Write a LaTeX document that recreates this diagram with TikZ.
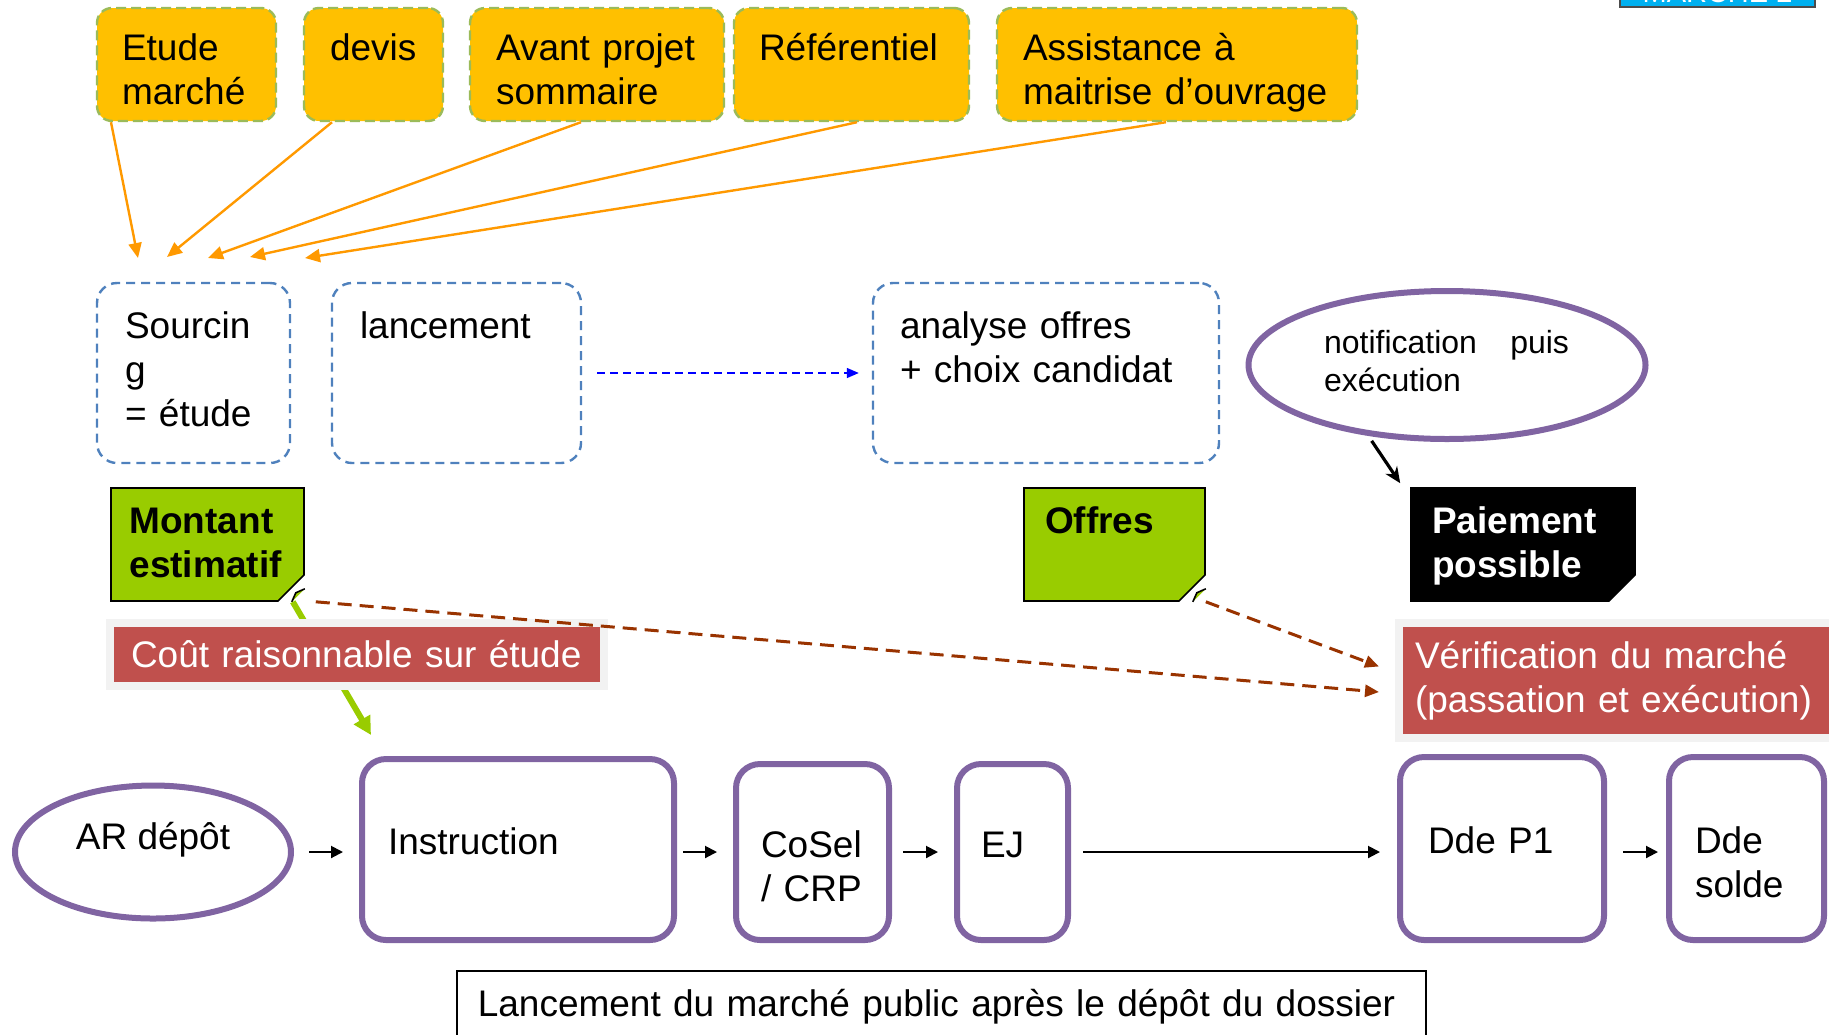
\documentclass[tikz,border=0pt]{standalone}
\usepackage{fontspec}
\setmainfont{Liberation Sans}
\usetikzlibrary{arrows.meta,shapes.geometric,shapes.misc}

\definecolor{jaune}{HTML}{FFC000}
\definecolor{vertpale}{HTML}{9BBB59}
\definecolor{orangefl}{HTML}{FF9900}
\definecolor{bleupale}{HTML}{4F81BD}
\definecolor{bleuvif}{HTML}{0000FF}
\definecolor{mauve}{HTML}{8064A2}
\definecolor{vert}{HTML}{99CC00}
\definecolor{rouge}{HTML}{C0504D}
\definecolor{grisclair}{HTML}{F2F2F2}
\definecolor{brun}{HTML}{993300}
\definecolor{ciel}{HTML}{00B0F0}

\begin{document}
\begin{tikzpicture}[x=0.5pt,y=-0.5pt,
	every node/.style={font=\fontsize{18.5}{22}\selectfont, align=left, inner sep=0pt},
	idee/.style={draw=vertpale, fill=jaune, line width=1.2pt, dash pattern=on 5pt off 2.5pt,
		rounded corners=7.5pt, minimum height=56.5pt, text height=10pt, text depth=14.5pt},
	etape/.style={draw=bleupale, line width=1.2pt, dash pattern=on 4.5pt off 3pt,
		rounded corners=10pt, minimum height=90pt, text height=5pt, text depth=40pt},
	note/.style={chamfered rectangle, chamfered rectangle corners=south east,
		chamfered rectangle xsep=6.5pt, chamfered rectangle ysep=6.5pt, draw=black, line width=0.8pt,
		minimum height=56.5pt, text height=3pt, text depth=14.5pt,
		font=\fontsize{18.5}{22}\selectfont\bfseries},
	etiquette/.style={fill=rouge, draw=grisclair, line width=4pt, text=white},
	bloc/.style={draw=mauve, line width=3pt, rounded corners=12pt, text height=18pt, text depth=13pt},
	fleche/.style={-{Triangle[length=6pt,width=6pt]}, line width=1pt},
	]
	\useasboundingbox (0,0) rectangle (1829,1034);
	\clip (0,0) rectangle (1829,1034);

	% apports
	\node[idee, minimum width=89.5pt, text width=64.5pt] (etude) at (186.5,64.5) {Etude\\marché};
	\node[idee, minimum width=69.5pt, text width=43.5pt] (devis) at (373.5,64.5) {devis};
	\node[idee, minimum width=127pt, text width=101pt] (avant) at (597,64.5) {Avant projet\\sommaire};
	\node[idee, minimum width=117.5pt, text width=92.5pt] (referentiel) at (851.5,64.5) {Référentiel};
	\node[idee, minimum width=180pt, text width=154pt] (amo) at (1177,64.5) {Assistance à\\maitrise d’ouvrage};
	\node[fill=ciel, draw=black!70, line width=0.8pt, anchor=south, minimum width=97.5pt,
		text depth=0pt, inner ysep=2.5pt, text=white, font=\fontsize{14.5}{17}\selectfont] (marche) at (1717.5,8) {MARCHÉ 2};

	\coordinate (cible1) at (138,258);
	\coordinate (cible2) at (167,257);
	\coordinate (cible3) at (208,258);
	\coordinate (cible4) at (250,257);
	\coordinate (cible5) at (305,258);
	\foreach \n/\c/\d in {etude/1/-37.75pt, devis/2/-20.75pt, avant/3/-8pt, referentiel/4/2.75pt, amo/5/-5.5pt}
		\draw[orangefl, line width=1.2pt, -{Triangle[length=7.5pt,width=6.5pt]}] ([xshift=\d]\n.south) -- (cible\c);

	% etapes
	\node[etape, minimum width=96.5pt, text width=68.5pt] (sourcing) at (193.5,373) {Sourcin\\g\\= étude};
	\node[etape, minimum width=124.5pt, text width=96.5pt] (lancement) at (456.5,373) {lancement};
	\node[etape, minimum width=173pt, text width=146pt] (analyse) at (1046,373) {analyse offres\\+ choix candidat};
	\draw[bleuvif, line width=0.7pt, dash pattern=on 4pt off 2.5pt, -{Triangle[length=6pt,width=5pt]},
		shorten <=7.5pt, shorten >=6.5pt] (lancement) -- (analyse);

	\node[ellipse, draw=mauve, line width=3pt, minimum width=198.5pt, minimum height=74pt,
		font=\fontsize{16}{19}\selectfont, text width=123pt, text height=2pt, text depth=13.5pt] (notif) at (1447,365)
		{\makebox[122.5pt]{notification\hfill puis}\\exécution};

	% notes
	\node[note, fill=vert, minimum width=96.5pt, text width=78pt] (montant) at (207.5,544.5) {Montant\\estimatif};
	\node[note, fill=vert, minimum width=90.5pt, text width=69.5pt] (offres) at (1114.5,544.5) {Offres};
	\node[note, fill=black, text=white, minimum width=112pt, text width=91pt] (paiement) at (1523,544.5) {Paiement\\possible};
	\foreach \n in {montant,offres} {
		\coordinate (\n-coin) at (\n.south -| \n.east);
		\filldraw[fill=vert, line width=0.8pt] ([yshift=6.5pt]\n-coin) -- ([xshift=-4.5pt,yshift=4.5pt]\n-coin) -- ([xshift=-6.5pt]\n-coin);
	}
	\draw[line width=1.6pt, -{Stealth[length=8pt,width=7pt]}, shorten <=3pt]
		(notif.222) -- ([xshift=-5pt,yshift=2pt]paiement.north -| paiement.west);

	% chaine
	\node[ellipse, draw=mauve, line width=3pt, minimum width=138pt, minimum height=66.5pt,
		text height=10pt, text depth=13pt] (ardepot) at (153,852) {AR dépôt};
	\node[bloc, minimum width=156pt, minimum height=90.5pt, text width=130pt] (instruction) at (518,849.5) {Instruction};
	\node[bloc, minimum width=76.5pt, minimum height=88pt, text width=51.5pt] (cosel) at (812.5,852) {CoSel\\/ CRP};
	\node[bloc, minimum width=55.5pt, minimum height=88pt, text width=31.5pt] (ej) at (1012.5,852) {EJ};
	\node[bloc, minimum width=102pt, minimum height=91.5pt, text width=74pt] (ddep1) at (1502,848.5) {Dde P1};
	\node[bloc, minimum width=77.5pt, minimum height=91.5pt, text width=51.5pt] (ddesolde) at (1746.5,848.5) {Dde\\solde};
	\coordinate (ligne) at (0,852);
	\foreach \a/\b/\s/\t in {ardepot/instruction/7.5pt/8pt, instruction/cosel/3pt/8pt, cosel/ej/5.5pt/8pt,
		ej/ddep1/6pt/8.5pt, ddep1/ddesolde/8pt/4pt}
		\draw[fleche, shorten <=\s, shorten >=\t] (\a.east |- ligne) -- (\b.west |- ligne);

	\draw[vert, line width=3pt, -{Triangle[length=9pt,width=9pt]}]
		([xshift=-6pt]montant-coin) -- ([xshift=6pt,yshift=10.5pt]instruction.north west);

	% controles
	\node[etiquette, minimum width=247pt, minimum height=31.5pt, text width=226pt] (cout) at (357,654.5) {Coût raisonnable sur étude};
	\node[etiquette, minimum width=222pt, minimum height=57.5pt, text width=206pt] (verif) at (1621,680.5)
		{Vérification du marché\\(passation et exécution)};
	\draw[brun, line width=1.5pt, dash pattern=on 7pt off 4pt, -{Triangle[length=7pt,width=6pt]}]
		([xshift=5.5pt]montant-coin) -- ([xshift=-8pt,yshift=-5.75pt]verif.west);
	\draw[brun, line width=1.5pt, dash pattern=on 7pt off 4pt, -{Triangle[length=7pt,width=6pt]}]
		(offres-coin) -- ([xshift=-8pt,yshift=7pt]verif.west);

	\node[draw=black, line width=0.8pt, anchor=north west, minimum width=484.5pt, minimum height=36pt,
		text width=463.5pt] (legende) at (456,970) {Lancement du marché public après le dépôt du dossier};
	% TODO
\end{tikzpicture}
\end{document}
